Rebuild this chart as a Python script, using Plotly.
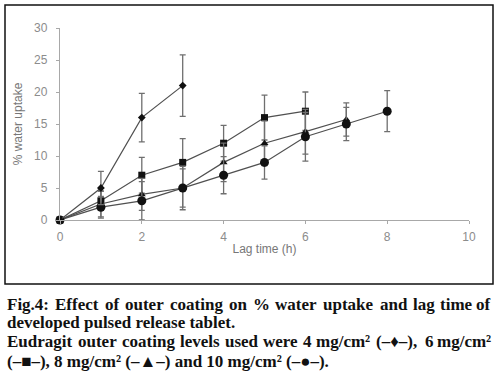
import plotly.graph_objects as go

# Data
x_4mg = [0, 1, 2, 3]
y_4mg = [0, 5, 16, 21]
e_4mg = [0, 2.6, 3.8, 4.8]

x_6mg = [0, 1, 2, 3, 4, 5, 6]
y_6mg = [0, 3, 7, 9, 12, 16, 17]
e_6mg = [0, 1.5, 2.8, 3.7, 2.8, 3.5, 3.0]

x_8mg = [0, 1, 2, 3, 4, 5, 6, 7]
y_8mg = [0, 2.5, 4, 5, 9, 12, 13.8, 15.7]
e_8mg = [0, 2.0, 2.5, 3.0, 3.0, 3.5, 3.5, 2.6]

x_10mg = [0, 1, 2, 3, 4, 5, 6, 7, 8]
y_10mg = [0, 2, 3, 5, 7, 9, 13, 15, 17]
e_10mg = [0, 1.7, 3.0, 3.4, 2.9, 2.6, 3.8, 2.6, 3.2]

x_ticks = [0, 2, 4, 6, 8, 10]
y_ticks = [0, 5, 10, 15, 20, 25, 30]

caption_lines = [
    "Fig.4: Effect of outer coating on % water uptake and lag time of",
    "developed pulsed release tablet.",
    "Eudragit outer coating levels used were 4 mg/cm² (–♦–), 6 mg/cm²",
    "(–■–), 8 mg/cm² (–▲–) and 10 mg/cm² (–●–).",
]
caption_justified = [True, False, True, False]
caption_y = [304, 322, 341, 361]   # layout: pixel centre of each line

L, R, T, B = 60, 31, 28, 165
W, H = 500, 385
PW, PH = W - L - R, H - T - B
CAP_FONT = 17
CAP_LEFT, CAP_RIGHT = 6, 492

def xp(px):
    return (px - L) / PW

def yp(py):
    return (H - B - py) / PH

# approximate Times-Bold advance widths (1/1000 em) for justification
_w = {' ': 250, '%': 1000, '(': 333, ')': 333, ',': 250, '.': 250, '/': 278, ':': 333,
      '²': 300, '–': 500, '♦': 620, '■': 770, '▲': 770, '●': 770,
      'E': 667, 'F': 611}
_lower = dict(a=500, b=556, c=444, d=556, e=444, f=333, g=500, h=556, i=278, j=333,
              k=556, l=278, m=833, n=556, o=500, p=556, q=556, r=444, s=389, t=333,
              u=556, v=500, w=722, x=500, y=500, z=444)
_w.update(_lower)

def text_width(s):
    return sum(_w.get(ch, 500) for ch in s) * CAP_FONT / 1000 * 1.024

fig = go.Figure()
series = [
    (x_6mg, y_6mg, e_6mg, "square", 7),
    (x_8mg, y_8mg, e_8mg, "triangle-up", 7),
    (x_10mg, y_10mg, e_10mg, "circle", 9),
    (x_4mg, y_4mg, e_4mg, "diamond", 6),
]
for xs, ys, es, sym, sz in series:
    fig.add_trace(go.Scatter(
        x=xs, y=ys, mode="lines+markers",
        line=dict(color="#505050", width=1.2),
        marker=dict(symbol=sym, size=sz, color="#111111"),
        error_y=dict(type="data", array=es, visible=True,
                     color="#6f6f6f", thickness=1.3, width=3),
        cliponaxis=False, showlegend=False,
    ))

fig.update_xaxes(range=[0, 10], tickvals=x_ticks, showgrid=False, zeroline=False,
                 automargin=False,
                 showline=True, linecolor="#a8a8a8", linewidth=1.3,
                 ticks="outside", ticklen=3, tickcolor="#a8a8a8",
                 tickfont=dict(family="Liberation Sans", size=12, color="#8c8c8c"),
                 ticklabelstandoff=2,
                 title=dict(text="Lag time (h)", standoff=2,
                            font=dict(family="Liberation Sans", size=12, color="#777777")))
fig.update_yaxes(range=[0, 30], tickvals=y_ticks, showgrid=False, zeroline=False,
                 automargin=False,
                 showline=True, linecolor="#a8a8a8", linewidth=1.3,
                 ticks="outside", ticklen=3, tickcolor="#a8a8a8",
                 tickfont=dict(family="Liberation Sans", size=12, color="#8c8c8c"),
                 ticklabelstandoff=6,
                 title=dict(text="% water uptake", standoff=8,
                            font=dict(family="Liberation Sans", size=12, color="#777777")))

fig.add_shape(type="rect", xref="paper", yref="paper",
              x0=xp(5), x1=xp(493), y0=yp(284), y1=yp(5),
              line=dict(color="#111111", width=1.5))

cap_font = dict(family="Liberation Serif", size=CAP_FONT, color="#111111")
for line, just, py in zip(caption_lines, caption_justified, caption_y):
    if not just:
        fig.add_annotation(text="<b>" + line + "</b>", xref="paper", yref="paper",
                           x=xp(CAP_LEFT), y=yp(py), xanchor="left", yanchor="middle",
                           showarrow=False, borderpad=0, font=cap_font)
        continue
    words = line.split(" ")
    widths = [text_width(wd) for wd in words]
    gap = (CAP_RIGHT - CAP_LEFT - sum(widths)) / (len(words) - 1)
    pos = CAP_LEFT
    for k, (wd, ww) in enumerate(zip(words, widths)):
        last = k == len(words) - 1
        fig.add_annotation(text="<b>" + wd + "</b>", xref="paper", yref="paper",
                           x=xp(CAP_RIGHT if last else pos), y=yp(py),
                           xanchor="right" if last else "left", yanchor="middle",
                           showarrow=False, borderpad=0, font=cap_font)
        pos += ww + gap

fig.update_layout(width=W, height=H, margin=dict(l=L, r=R, t=T, b=B),
                  plot_bgcolor="white", paper_bgcolor="white")

fig.write_html("out.html", config={"displayModeBar": False},
               post_script="document.body.style.margin='0';document.body.style.overflow='hidden';")
